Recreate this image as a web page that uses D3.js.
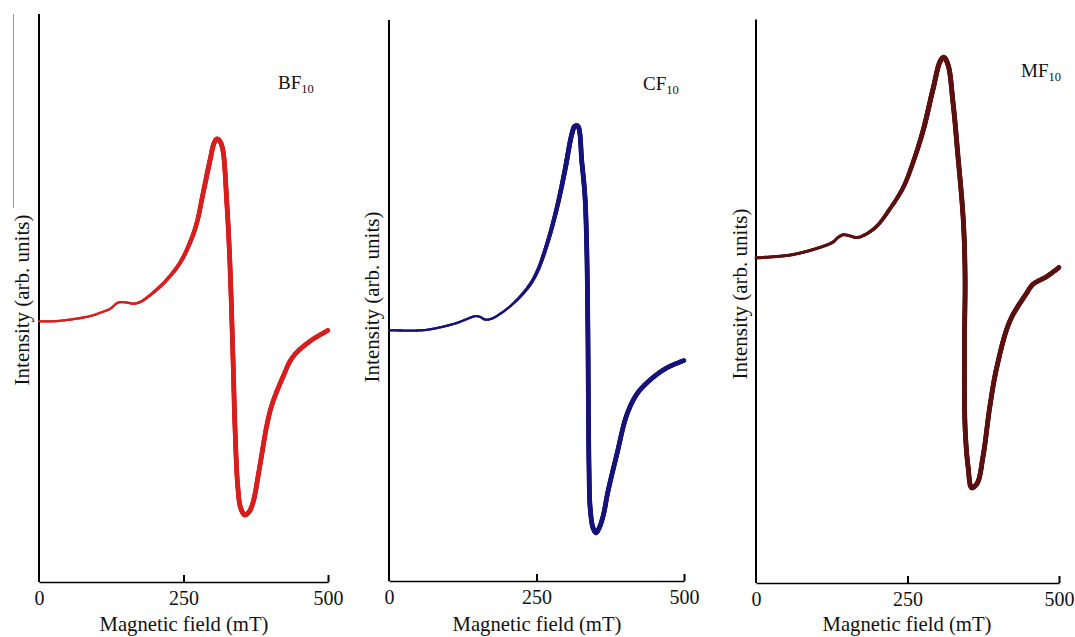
<!DOCTYPE html>
<html>
<head>
<meta charset="utf-8">
<script src="https://cdn.jsdelivr.net/npm/d3@7/dist/d3.min.js"></script>
<style>
  html, body { margin: 0; padding: 0; background: #fff; }
  svg { display: block; }
  text { font-family: "Liberation Serif", "Times New Roman", serif; fill: #111; }
</style>
</head>
<body>
<svg id="chart" width="1075" height="637"></svg>
<script>
// ---------------- data ----------------
const tickValues = [0, 250, 500];
const xTitle = "Magnetic field (mT)";
const yTitle = "Intensity (arb. units)";

const sampleNames = ["BF", "CF", "MF"];
const sampleSub = "10";

const bfField     = [0, 24, 54, 88, 106, 123, 137, 152, 163, 175, 197, 221, 244, 261, 273, 284, 296, 303, 308, 313, 318, 325, 330, 336, 339, 344, 349, 356, 363, 370, 382, 394, 403, 422, 439, 469, 500];
const bfIntensity = [45.9, 45.9, 46.2, 46.8, 47.4, 48.1, 49.2, 49.2, 49.0, 49.3, 50.9, 53.2, 56.2, 59.7, 63.2, 68.5, 74.3, 77.3, 78.0, 77.6, 76.1, 66.7, 56.8, 38.2, 27.5, 16.7, 13.0, 11.8, 12.3, 13.9, 20.4, 27.5, 31.2, 36.1, 39.6, 42.4, 44.3];

const cfField     = [0, 58, 86, 115, 137, 146, 154, 163, 175, 188, 210, 236, 251, 268, 285, 298, 310, 315, 320, 327, 332, 335, 337, 338, 339, 341, 346, 351, 356, 363, 371, 386, 403, 420, 442, 471, 500];
const cfIntensity = [44.7, 44.7, 45.2, 46.0, 46.9, 47.2, 47.1, 46.6, 46.8, 47.6, 49.4, 52.4, 55.1, 60.1, 66.7, 73.1, 79.7, 81.1, 81.1, 74.5, 68.8, 60.1, 45.6, 31.2, 20.3, 13.0, 9.4, 8.6, 9.4, 11.6, 15.9, 22.5, 29.6, 33.3, 35.8, 38.0, 39.3];

const mfField     = [0, 56, 101, 127, 135, 144, 155, 167, 183, 200, 221, 243, 259, 276, 292, 304, 310, 317, 325, 333, 342, 345, 344, 345, 350, 356, 365, 375, 386, 398, 419, 447, 457, 480, 500];
const mfIntensity = [57.7, 58.2, 59.4, 60.5, 61.3, 61.8, 61.6, 61.3, 62.0, 63.4, 66.4, 70.2, 74.6, 80.4, 87.6, 92.6, 93.3, 91.9, 85.4, 76.1, 64.5, 54.4, 42.2, 27.7, 20.6, 16.9, 17.7, 22.7, 31.4, 38.6, 46.5, 51.5, 53.0, 54.4, 56.0];

// ---------------- layout / style ----------------
const panels = [
  { name: sampleNames[0], field: bfField, inten: bfIntensity, x0: 39,  x1: 328,  yB: 582, yT: 14,   color: "#d81e1e",
    wDom: [0, 160, 290, 500], wRng: [2.3, 2.3, 4.8, 4.6],
    lab: [278, 89], xt: [184, 631], yt: [22, 300] },
  { name: sampleNames[1], field: cfField, inten: cfIntensity, x0: 389, x1: 684,  yB: 581, yT: 20,   color: "#16137c",
    wDom: [0, 200, 300, 500], wRng: [2.3, 2.3, 4.8, 4.6],
    lab: [643, 90], xt: [537, 631], yt: [372, 297] },
  { name: sampleNames[2], field: mfField, inten: mfIntensity, x0: 756, x1: 1059, yB: 583, yT: 19.5, color: "#5c1010",
    wDom: [0, 170, 280, 500], wRng: [3.0, 3.0, 4.9, 4.7],
    lab: [1021, 77], xt: [907, 631], yt: [740, 294] }
];

const svg = d3.select("#chart");

// faint artefact line at far left of first panel
svg.append("line").attr("x1", 13.5).attr("x2", 13.5).attr("y1", 14).attr("y2", 208)
  .attr("stroke", "#9a9a9a").attr("stroke-width", 1);

panels.forEach(p => {
  const x = d3.scaleLinear().domain([0, 500]).range([p.x0, p.x1]);
  const y = d3.scaleLinear().domain([0, 100]).range([p.yB, p.yT]);
  const g = svg.append("g");

  // y axis line (no ticks)
  g.append("line").attr("x1", p.x0).attr("x2", p.x0).attr("y1", p.yT).attr("y2", p.yB)
    .attr("stroke", "#000").attr("stroke-width", 2);

  // x axis
  const ax = g.append("g").attr("transform", `translate(0,${p.yB})`)
    .call(d3.axisBottom(x).tickValues(tickValues).tickFormat(d3.format("d"))
      .tickSizeInner(-7).tickSizeOuter(0).tickPadding(9));
  ax.select(".domain").attr("stroke", "#000").attr("stroke-width", 1.6);
  ax.selectAll(".tick line").attr("stroke", "#000").attr("stroke-width", 2)
    .attr("display", d => d === 0 ? "none" : null);
  ax.selectAll(".tick text").attr("font-family", "Liberation Serif, serif")
    .attr("font-size", 20).attr("fill", "#111");

  // titles
  g.append("text").attr("x", p.xt[0]).attr("y", p.xt[1]).attr("text-anchor", "middle")
    .attr("font-size", 20.7).text(xTitle);
  g.append("text").attr("transform", `translate(${p.yt[0]},${p.yt[1]}) rotate(-90)`)
    .attr("text-anchor", "middle").attr("dy", "0.35em").attr("font-size", 21).text(yTitle);

  // sample label with subscript
  const t = g.append("text").attr("x", p.lab[0]).attr("y", p.lab[1]).attr("font-size", 19);
  t.append("tspan").text(p.name);
  t.append("tspan").attr("font-size", 12.5).attr("dy", 4).text(sampleSub);

  // curve: guide path, then sampled into short segments with growing stroke width
  const pts = p.field.map((f, i) => [f, p.inten[i]]);
  const line = d3.line().x(d => x(d[0])).y(d => y(d[1])).curve(d3.curveCatmullRom.alpha(0.5));
  const guide = g.append("path").attr("d", line(pts)).attr("fill", "none").attr("stroke", "none");
  const node = guide.node();
  const L = node.getTotalLength();
  const wScale = d3.scaleLinear().domain(p.wDom).range(p.wRng).clamp(true);
  const samples = d3.range(0, L, 1.5).concat([L]).map(s => node.getPointAtLength(s));
  const segs = d3.pairs(samples);
  g.append("g").selectAll("line").data(segs).join("line")
    .attr("x1", d => d[0].x).attr("y1", d => d[0].y)
    .attr("x2", d => d[1].x).attr("y2", d => d[1].y)
    .attr("stroke", p.color)
    .attr("stroke-width", d => wScale(x.invert((d[0].x + d[1].x) / 2)))
    .attr("stroke-linecap", "round");
});
</script>
</body>
</html>
